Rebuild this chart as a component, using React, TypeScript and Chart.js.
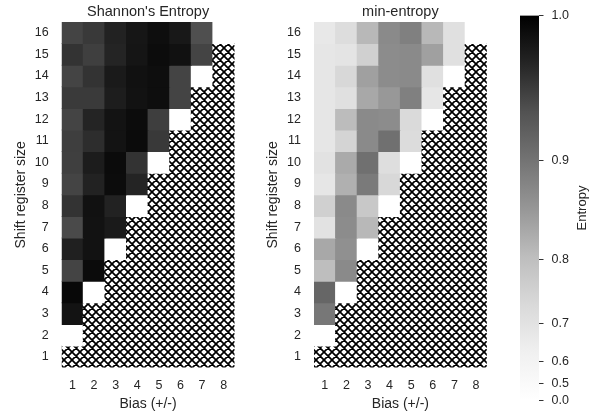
import React, { useEffect, useRef } from 'react';
import { Chart, registerables } from 'chart.js';

Chart.register(...registerables);

// ---------- data ----------
const BIAS_LABELS = ['1', '2', '3', '4', '5', '6', '7', '8'];
// rows listed top (16) to bottom (1)
const REGISTER_SIZES = [16, 15, 14, 13, 12, 11, 10, 9, 8, 7, 6, 5, 4, 3, 2, 1];

// 0 = white cell (bias = size/2), null = undefined cell (hatched)
const SHANNON: (number | null)[][] = [
  [0.949, 0.957, 0.973, 0.983, 0.989, 0.981, 0.940, 0],
  [0.961, 0.952, 0.972, 0.984, 0.991, 0.987, 0.949, null],
  [0.949, 0.961, 0.980, 0.987, 0.989, 0.949, 0, null],
  [0.956, 0.956, 0.977, 0.986, 0.989, 0.949, null, null],
  [0.949, 0.972, 0.985, 0.991, 0.953, 0, null, null],
  [0.953, 0.965, 0.985, 0.992, 0.957, null, null, null],
  [0.952, 0.978, 0.992, 0.961, 0, null, null, null],
  [0.949, 0.973, 0.991, 0.972, null, null, null, null],
  [0.961, 0.987, 0.973, 0, null, null, null, null],
  [0.944, 0.986, 0.980, null, null, null, null, null],
  [0.975, 0.986, 0, null, null, null, null, null],
  [0.949, 0.992, null, null, null, null, null, null],
  [0.994, 0, null, null, null, null, null, null],
  [0.985, null, null, null, null, null, null, null],
  [0, null, null, null, null, null, null, null],
  [null, null, null, null, null, null, null, null],
];

const MIN_ENTROPY: (number | null)[][] = [
  [0.673, 0.720, 0.812, 0.873, 0.886, 0.812, 0.708, 0],
  [0.683, 0.692, 0.760, 0.871, 0.873, 0.845, 0.708, null],
  [0.683, 0.738, 0.845, 0.871, 0.873, 0.708, 0, null],
  [0.683, 0.708, 0.834, 0.855, 0.886, 0.683, null, null],
  [0.683, 0.806, 0.873, 0.871, 0.731, 0, null, null],
  [0.683, 0.749, 0.873, 0.904, 0.724, null, null, null],
  [0.700, 0.832, 0.904, 0.716, 0, null, null, null],
  [0.683, 0.823, 0.893, 0.738, null, null, null, null],
  [0.760, 0.873, 0.780, 0, null, null, null, null],
  [0.700, 0.871, 0.812, null, null, null, null, null],
  [0.834, 0.865, 0, null, null, null, null, null],
  [0.802, 0.873, null, null, null, null, null, null],
  [0.916, 0, null, null, null, null, null, null],
  [0.896, null, null, null, null, null, null, null],
  [0, null, null, null, null, null, null, null],
  [null, null, null, null, null, null, null, null],
];

const CBAR_TICKS = [0.0, 0.5, 0.6, 0.7, 0.8, 0.9, 1.0];
const GAMMA = 4.5; // power-law colour normalisation
const GREYS = [255, 240, 217, 189, 150, 115, 82, 37, 0];

// ---------- style ----------
const FONT = '"Liberation Sans", Arial, Helvetica, sans-serif';
const TEXT = '#262626';
const TICK_SIZE = 12.5;
const LABEL_SIZE = 14;
const CBAR_LABEL_SIZE = 13;
const TITLE_SIZE = 14.5;
const LH = 1.2;

function greyCss(t: number) {
  const tt = Math.min(1, Math.max(0, t));
  const s = tt * 8;
  const k = Math.min(7, Math.floor(s));
  const f = s - k;
  const g = Math.round(GREYS[k] + (GREYS[k + 1] - GREYS[k]) * f);
  return `rgb(${g},${g},${g})`;
}
function valueColor(v: number) {
  return greyCss(Math.pow(Math.max(0, v), GAMMA));
}

function makeHatch(ctx: CanvasRenderingContext2D) {
  const P = 8;
  const c = document.createElement('canvas');
  c.width = P;
  c.height = P;
  const g = c.getContext('2d')!;
  g.fillStyle = '#ffffff';
  g.fillRect(0, 0, P, P);
  g.strokeStyle = '#000000';
  g.lineWidth = 1.7;
  g.beginPath();
  for (let k = -1; k <= 1; k++) {
    g.moveTo(k * P - 1, -1);
    g.lineTo(k * P + P + 1, P + 1);
    g.moveTo(k * P - 1, P + 1);
    g.lineTo(k * P + P + 1, -1);
  }
  g.stroke();
  return ctx.createPattern(c, 'repeat')!;
}

const H = 416;
const PLOT_TOP = 22;
const PLOT_BOTTOM = 367.6;
const TITLE_CY = 12;
const XTITLE_CY = 404;
const YTITLE_CX = 21;

function Heatmap({ values, title, left, width, yAxisW, padRight }: any) {
  const ref = useRef<HTMLCanvasElement>(null);
  useEffect(() => {
    const canvas = ref.current!;
    const ctx = canvas.getContext('2d')!;
    const hatch = makeHatch(ctx);
    const tFont = { family: FONT, size: LABEL_SIZE, weight: 'normal' as const, lineHeight: LH };
    const tickFont = { family: FONT, size: TICK_SIZE, lineHeight: LH };
    const lh = LABEL_SIZE * LH;
    const tlh = TICK_SIZE * LH;
    const ascSizes = [...REGISTER_SIZES].sort((a, b) => a - b);
    const titlePlugin = {
      id: 'axTitle',
      afterDraw(ch: any) {
        const ca = ch.chartArea;
        const c = ch.ctx;
        c.save();
        c.font = `${TITLE_SIZE}px ${FONT}`;
        c.fillStyle = TEXT;
        c.textAlign = 'center';
        c.textBaseline = 'middle';
        c.fillText(title, (ca.left + ca.right) / 2, TITLE_CY);
        c.restore();
      },
    };
    const chart = new Chart(canvas, {
      type: 'bar',
      data: {
        labels: BIAS_LABELS,
        datasets: REGISTER_SIZES.map((r, i) => ({
          data: values[i].map(() => [r - 0.5, r + 0.5]),
          backgroundColor: values[i].map((v: number | null) => (v === null ? hatch : valueColor(v))),
          grouped: false,
          barPercentage: 1,
          categoryPercentage: 1,
          borderWidth: 0,
          inflateAmount: 0.5,
        })) as any,
      },
      options: {
        responsive: false,
        animation: false,
        devicePixelRatio: 1,
        events: [],
        layout: { padding: { left: 0, right: padRight, top: PLOT_TOP, bottom: 0 } },
        plugins: {
          legend: { display: false },
          tooltip: { enabled: false },
          title: { display: false },
        },
        scales: {
          x: {
            type: 'category',
            offset: true,
            grid: { display: false, drawTicks: false },
            border: { display: false },
            ticks: { padding: 18.2 - tlh / 2, color: TEXT, font: tickFont, maxRotation: 0 },
            title: {
              display: true,
              text: 'Bias (+/-)',
              color: TEXT,
              font: tFont,
              padding: { top: 0, bottom: H - XTITLE_CY - lh / 2 },
            },
            afterFit: (s: any) => {
              s.height = H - PLOT_BOTTOM;
            },
          },
          y: {
            type: 'linear',
            min: 0.5,
            max: 16.5,
            grid: { display: false, drawTicks: false },
            border: { display: false },
            ticks: {
              padding: 13,
              autoSkip: false,
              color: TEXT,
              font: tickFont,
              callback: (v: any) => String(v),
            },
            afterBuildTicks: (s: any) => {
              s.ticks = ascSizes.map((r) => ({ value: r }));
            },
            title: {
              display: true,
              text: 'Shift register size',
              color: TEXT,
              font: tFont,
              padding: { top: YTITLE_CX - lh / 2, bottom: 0 },
            },
            afterFit: (s: any) => {
              s.width = yAxisW;
            },
          },
        },
      } as any,
      plugins: [titlePlugin],
    });
    return () => chart.destroy();
  }, []);
  return (
    <canvas
      ref={ref}
      width={width}
      height={H}
      style={{ position: 'absolute', left, top: 0, width, height: H }}
    />
  );
}

function ColorBar() {
  const ref = useRef<HTMLCanvasElement>(null);
  useEffect(() => {
    const canvas = ref.current!;
    const labelPlugin = {
      id: 'cbarLabel',
      afterDraw(chart: any) {
        const c = chart.ctx;
        const ca = chart.chartArea;
        c.save();
        c.translate(chart.width - 14.5, (ca.top + ca.bottom) / 2);
        c.rotate(-Math.PI / 2);
        c.font = `${CBAR_LABEL_SIZE}px ${FONT}`;
        c.fillStyle = TEXT;
        c.textAlign = 'center';
        c.textBaseline = 'middle';
        c.fillText('Entropy', 0, 0);
        c.restore();
      },
    };
    const chart = new Chart(canvas, {
      type: 'bar',
      data: {
        labels: [''],
        datasets: [
          {
            data: [[0, 1]] as any,
            barPercentage: 1,
            categoryPercentage: 1,
            borderWidth: 0,
            backgroundColor: (c: any) => {
              const ch = c.chart;
              if (!ch.chartArea || !ch.scales.y) return '#888';
              const y = ch.scales.y;
              const g = ch.ctx.createLinearGradient(0, y.getPixelForValue(0), 0, y.getPixelForValue(1));
              GREYS.forEach((gv, k) => g.addColorStop(k / 8, `rgb(${gv},${gv},${gv})`));
              return g;
            },
          },
        ],
      },
      options: {
        responsive: false,
        animation: false,
        devicePixelRatio: 1,
        events: [],
        layout: { padding: { left: 20, right: 0, top: 9.3, bottom: 11 } },
        plugins: { legend: { display: false }, tooltip: { enabled: false } },
        scales: {
          x: { display: false },
          y: {
            position: 'right',
            min: 0,
            max: 1,
            grid: { drawOnChartArea: false, drawTicks: true, tickLength: 4.5, color: '#333333', lineWidth: 1 },
            border: { display: false },
            ticks: {
              autoSkip: false,
              padding: 8,
              color: TEXT,
              font: { family: FONT, size: TICK_SIZE, lineHeight: LH },
              callback: (_v: any, idx: number) => CBAR_TICKS[idx].toFixed(1),
            },
            afterBuildTicks: (s: any) => {
              s.ticks = CBAR_TICKS.map((v) => ({ value: Math.pow(v, GAMMA) }));
            },
            afterFit: (s: any) => {
              s.width = 58;
            },
          },
        },
      } as any,
      plugins: [labelPlugin],
    });
    return () => chart.destroy();
  }, []);
  return (
    <canvas ref={ref} width={97} height={H} style={{ position: 'absolute', left: 500, top: 0, width: 97, height: H }} />
  );
}

export default function App() {
  return (
    <div style={{ position: 'absolute', left: 0, top: 0, width: 597, height: 416, background: '#ffffff' }}>
      <Heatmap values={SHANNON} title="Shannon's Entropy" left={0} width={250} yAxisW={61.7} padRight={15.5} />
      <Heatmap values={MIN_ENTROPY} title="min-entropy" left={252} width={248} yAxisW={62} padRight={13.2} />
      <ColorBar />
    </div>
  );
}
